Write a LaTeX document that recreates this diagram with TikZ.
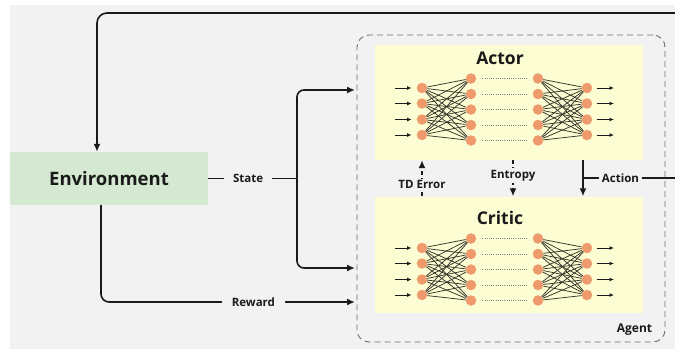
\documentclass[tikz,border=0pt]{standalone}
\usepackage{fontspec}
\setmainfont{Open Sans}
\usetikzlibrary{arrows.meta,calc}
\definecolor{bg}{HTML}{F2F2F2}
\definecolor{envg}{HTML}{D5E8D1}
\definecolor{boxy}{HTML}{FDFDD3}
\definecolor{neur}{HTML}{EE9A6C}
\definecolor{wirec}{HTML}{35352A}
\definecolor{ink}{HTML}{1A1A1A}
\definecolor{dashc}{HTML}{6E6E6E}
\begin{document}
\begin{tikzpicture}[x=1pt,y=-1pt,
  line/.style={draw=ink,line width=1.6pt},
  conn/.style={line,-{Latex[length=8pt,width=7pt]}},
  dconn/.style={conn,dash pattern=on 4pt off 3pt},
  lbl/.style={fill=bg,text=ink,font=\fontsize{11.5}{13}\selectfont\bfseries,inner xsep=5pt,inner ysep=2pt},
  title/.style={text=ink,font=\fontsize{17.5}{20}\selectfont\bfseries},
  neuron/.style={circle,fill=neur,minimum size=10.5pt,inner sep=0pt},
  wire/.style={draw=wirec,line width=0.75pt},
  small/.style={draw=ink,line width=1pt,-{Latex[length=4.5pt,width=4pt]}},
  dots/.style={draw=gray,dash pattern=on 1pt off 1.2pt,line width=0.7pt,shorten <=6pt,shorten >=6pt},
  panel/.style={fill=boxy,minimum width=268pt,inner sep=0pt}
]
\useasboundingbox (0,0) rectangle (675,349);
\fill[bg] (10,5) rectangle (675,349);

% agent frame
\node[draw=dashc,dash pattern=on 6pt off 4pt,line width=0.9pt,rounded corners=12pt,
      minimum width=308pt,minimum height=307pt,inner sep=0pt] (agent) at (511,188.5) {};
\node[text=ink,font=\fontsize{12}{14}\selectfont\bfseries] (agentlbl) at (634.5,330) {Agent};

% panels
\node[panel,minimum height=115pt] (actor) at (509,102.5) {};
\node[panel,minimum height=116pt] (critic) at (509,254.5) {};
\node[title] (actortitle) at (500,58) {Actor};
\node[title] (critictitle) at (500,218) {Critic};

% environment
\node[fill=envg,minimum width=198pt,minimum height=53pt,inner sep=0pt,text=ink,
      font=\fontsize{18.5}{21}\selectfont\bfseries] (env) at (109,178.5) {Environment};

% networks
\foreach \n/\dy in {A/0,C/160}{
  \foreach \i/\y in {1/88,2/103.5,3/119.5,4/135}{
    \node[neuron] (\n i\i) at (422,\y+\dy) {};
    \node[neuron] (\n o\i) at (587,\y+\dy) {};
    \coordinate (\n ia\i) at (395,\y+\dy);
    \coordinate (\n oa\i) at (614,\y+\dy);
    \draw[small,shorten >=5pt] (\n ia\i) -- (\n i\i);
    \draw[small,shorten <=5pt] (\n o\i) -- (\n oa\i);
  }
  \foreach \j/\y in {1/78.5,2/94,3/109.5,4/125,5/140.5}{
    \node[neuron] (\n a\j) at (471,\y+\dy) {};
    \node[neuron] (\n b\j) at (538,\y+\dy) {};
    \draw[dots] (\n a\j) -- (\n b\j);
  }
  \foreach \i in {1,...,4}{
    \foreach \j in {1,...,5}{
      \draw[wire] (\n i\i) -- (\n a\j);
      \draw[wire] (\n b\j) -- (\n o\i);
    }
  }
}

% state
\coordinate (ss) at (297,178.5);
\coordinate (sA) at (355,90);
\coordinate (sC) at (355,268);
\draw[line] (env.east) -- node[lbl,pos=0.45,inner xsep=9pt]{State} (ss);
\draw[conn,rounded corners=7pt] (ss) |- (sA);
\draw[conn,rounded corners=7pt] (ss) |- (sC);

% reward
\coordinate (rw) at (355,302);
\draw[conn,rounded corners=8pt] ($(env.south)+(-8,0)$) |- node[lbl,pos=0.8,inner xsep=10pt]{Reward} (rw);

% action and loop back
\coordinate (as) at (583,178);
\coordinate (farA) at (700,178);
\coordinate (farB) at (700,13);
\coordinate (topL) at (97,13);
\draw[conn] (actor.south -| as) -- (critic.north -| as);
\draw[conn,rounded corners=10pt] (as) -- node[lbl,pos=0.32,inner xsep=3pt]{Action} (farA) -- (farB) -- (topL) -- ($(env.north)+(-12,0)$);

% TD error and entropy
\coordinate (tdx) at (422,0);
\coordinate (enx) at (513,0);
\draw[dconn] (critic.north -| tdx) -- node[lbl,pos=0.32]{TD Error} (actor.south -| tdx);
\draw[dconn] (actor.south -| enx) -- node[lbl,pos=0.42]{Entropy} (critic.north -| enx);
\end{tikzpicture}
\end{document}
